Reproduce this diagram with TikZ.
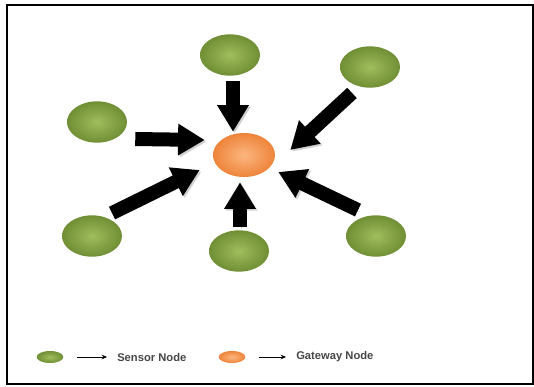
\documentclass[tikz,border=0pt]{standalone}
\usepackage{fontspec}
\setsansfont{Liberation Sans}
\usetikzlibrary{arrows.meta,shapes.geometric,calc}
\definecolor{leaf}{RGB}{112,142,52}
\definecolor{leafhi}{RGB}{160,190,92}
\definecolor{peach}{RGB}{238,132,58}
\definecolor{peachhi}{RGB}{252,182,128}
\definecolor{keytext}{RGB}{70,70,70}

\begin{document}
\begin{tikzpicture}[x=0.75pt,y=-0.75pt,
    sensor/.style={ellipse,minimum width=45pt,minimum height=31pt,inner sep=0pt,inner color=leafhi,outer color=leaf},
    gateway/.style={ellipse,minimum width=46.5pt,minimum height=33pt,inner sep=0pt,inner color=peachhi,outer color=peach},
    feed/.style={line width=10.5pt,-{Triangle[width=22.5pt,length=20pt]},
      preaction={draw=black!18,transform canvas={shift={(1.3pt,-1.3pt)}}}},
    key/.style={ellipse,minimum width=20pt,minimum height=9pt,inner sep=0pt},
    keyarrow/.style={-{Stealth[length=4pt,width=3.5pt]},line width=0.6pt,shorten <=10pt,shorten >=7.5pt},
    keylabel/.style={right,inner sep=0pt,font=\sffamily\bfseries\fontsize{8.4}{10}\selectfont,text=keytext}]
    \useasboundingbox (0,0) rectangle (534,386);
    \draw[line width=1.2pt] (7,5) rectangle (533,384);

    \node[gateway] (g) at (244,155) {};
    \node[sensor] (t) at (230,55) {};
    \node[sensor] (tr) at (370,67) {};
    \node[sensor] (l) at (97,122) {};
    \node[sensor] (bl) at (92,236) {};
    \node[sensor] (b) at (239,251) {};
    \node[sensor] (br) at (376,236) {};

    \path[every edge/.style={draw,feed}]
    ($(t.south)+(3,5)$) edge ($(g.north)+(-11,-1)$)
    ($(l.east)+(8,17)$) edge ($(g.west)+(-8,-15)$)
    ($(tr.south)+(-18,5)$) edge ($(g.east)+(15,-5)$)
    ($(bl.north)+(20,-2)$) edge ($(g.west)+(-13,15)$)
    ($(b.north)+(1,-3)$) edge ($(g.south)+(-4,5)$)
    ($(br.north)+(-18,-5)$) edge ($(g.east)+(3,17)$);

    % legend
    \node[key,inner color=leafhi,outer color=leaf] (ks) at (50,357) {};
    \node[keylabel] (sl) at (117,357) {Sensor Node};
    \node[key,inner color=peachhi,outer color=peach] (kg) at (232,357) {};
    \node[keylabel] (gl) at (296,357) {Gateway Node};
    \path[every edge/.style={draw,keyarrow}]
    (ks) edge (sl)
    (kg) edge (gl);
\end{tikzpicture}
\end{document}
